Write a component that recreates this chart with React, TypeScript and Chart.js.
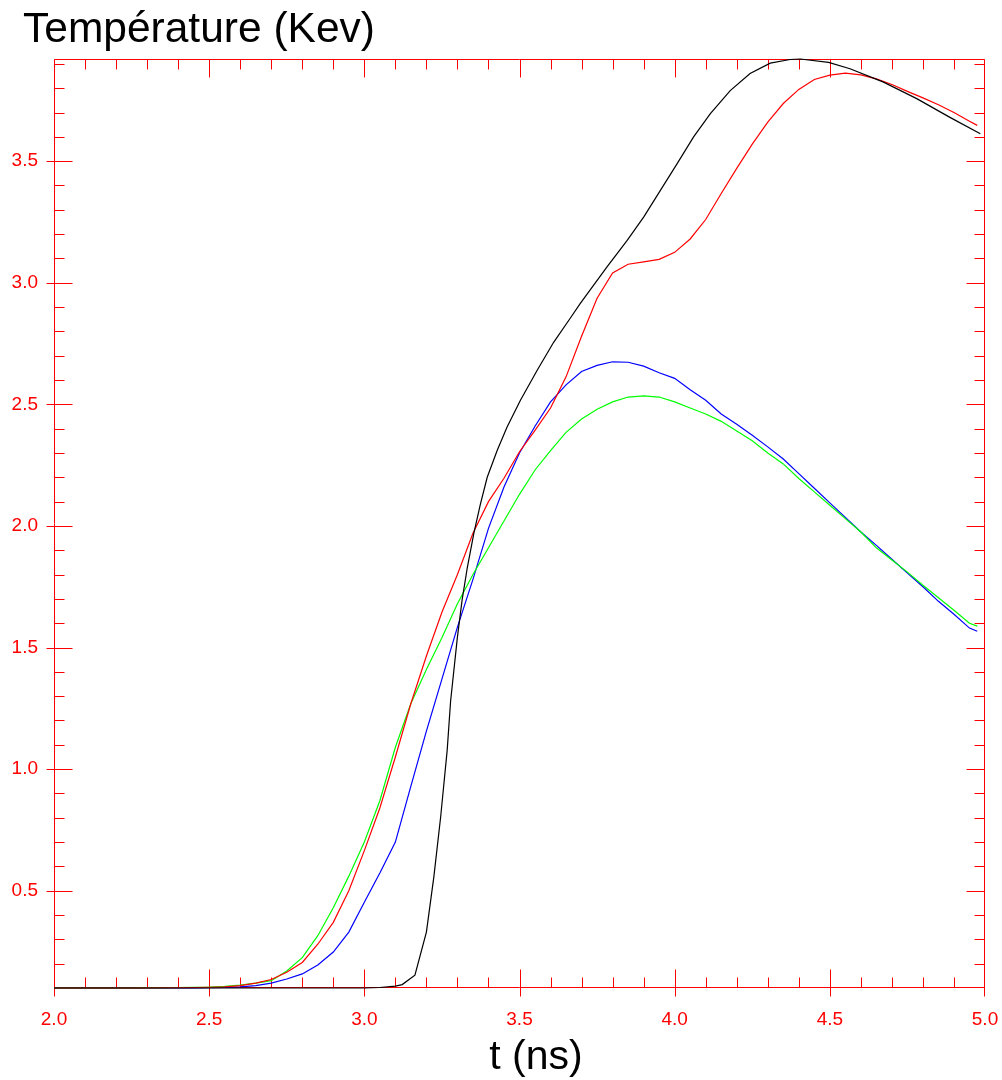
import React, { useEffect, useRef } from 'react';
import { Chart, registerables } from 'chart.js';

Chart.register(...registerables);

const CHART_TITLE = 'Température (Kev)';
const X_TITLE = 't (ns)';

const X_MIN = 2.0;
const X_MAX = 5.0;
const Y_MIN = 0.1;
const Y_MAX = 3.92;
const X_TICKS = [2.0, 2.5, 3.0, 3.5, 4.0, 4.5, 5.0];
const Y_TICKS = [0.5, 1.0, 1.5, 2.0, 2.5, 3.0, 3.5];

// shared time grid (ns) for red, green and blue curves
const T_GRID = [
  2.0, 2.05, 2.1, 2.15, 2.2, 2.25, 2.3, 2.35, 2.4, 2.45,
  2.5, 2.55, 2.6, 2.65, 2.7, 2.75, 2.8, 2.85, 2.9, 2.95,
  3.0, 3.05, 3.1, 3.15, 3.2, 3.25, 3.3, 3.35, 3.4, 3.45,
  3.5, 3.55, 3.6, 3.65, 3.7, 3.75, 3.8, 3.85, 3.9, 3.95,
  4.0, 4.05, 4.1, 4.15, 4.2, 4.25, 4.3, 4.35, 4.4, 4.45,
  4.5, 4.55, 4.6, 4.65, 4.7, 4.75, 4.8, 4.85, 4.9, 4.95, 4.975,
];

const RED_VALUES = [
  0.100, 0.100, 0.100, 0.100, 0.100, 0.100, 0.100, 0.101, 0.101, 0.102,
  0.103, 0.105, 0.110, 0.120, 0.135, 0.165, 0.205, 0.280, 0.370, 0.500,
  0.665, 0.840, 1.050, 1.270, 1.465, 1.645, 1.800, 1.970, 2.100, 2.196,
  2.305, 2.393, 2.485, 2.613, 2.780, 2.936, 3.040, 3.076, 3.086, 3.096,
  3.125, 3.180, 3.260, 3.367, 3.470, 3.570, 3.660, 3.737, 3.795, 3.836,
  3.854, 3.862, 3.855, 3.838, 3.815, 3.787, 3.760, 3.732, 3.700, 3.664, 3.647,
];

const GREEN_VALUES = [
  0.100, 0.100, 0.100, 0.100, 0.100, 0.100, 0.101, 0.101, 0.102, 0.103,
  0.104, 0.107, 0.112, 0.120, 0.130, 0.170, 0.225, 0.315, 0.430, 0.560,
  0.700, 0.870, 1.090, 1.270, 1.410, 1.540, 1.680, 1.800, 1.910, 2.020,
  2.130, 2.230, 2.310, 2.385, 2.440, 2.480, 2.510, 2.530, 2.535, 2.530,
  2.510, 2.485, 2.460, 2.430, 2.390, 2.350, 2.300, 2.255, 2.195, 2.140,
  2.085, 2.030, 1.975, 1.910, 1.860, 1.810, 1.756, 1.705, 1.653, 1.600, 1.588,
];

const BLUE_VALUES = [
  0.100, 0.100, 0.100, 0.100, 0.100, 0.100, 0.100, 0.100, 0.100, 0.100,
  0.101, 0.102, 0.105, 0.110, 0.120, 0.137, 0.158, 0.195, 0.248, 0.330,
  0.453, 0.573, 0.700, 0.930, 1.156, 1.370, 1.584, 1.780, 1.990, 2.160,
  2.300, 2.410, 2.510, 2.580, 2.635, 2.660, 2.675, 2.673, 2.657, 2.630,
  2.607, 2.560, 2.517, 2.460, 2.418, 2.373, 2.325, 2.275, 2.215, 2.155,
  2.095, 2.035, 1.975, 1.920, 1.863, 1.806, 1.750, 1.690, 1.637, 1.580, 1.567,
];

// black curve has its own (finer) time sampling
const BLACK_T = [
  2.0, 2.5, 3.0, 3.05, 3.10, 3.122, 3.163, 3.20, 3.224, 3.246,
  3.267, 3.278, 3.30, 3.315, 3.332, 3.353, 3.374, 3.396, 3.428, 3.46,
  3.503, 3.557, 3.61, 3.664, 3.696, 3.782, 3.847, 3.90, 3.954, 4.008,
  4.061, 4.115, 4.179, 4.243, 4.308, 4.372, 4.405, 4.496, 4.565, 4.673,
  4.78, 4.887, 4.985,
];
const BLACK_VALUES = [
  0.100, 0.100, 0.100, 0.102, 0.108, 0.114, 0.153, 0.330, 0.557, 0.804,
  1.078, 1.280, 1.544, 1.695, 1.830, 1.970, 2.090, 2.200, 2.310, 2.407,
  2.517, 2.640, 2.755, 2.855, 2.915, 3.065, 3.174, 3.270, 3.380, 3.490,
  3.600, 3.695, 3.790, 3.860, 3.903, 3.918, 3.920, 3.906, 3.880, 3.825,
  3.757, 3.680, 3.613,
];

const AXIS_COLOR = '#ff0000';
const FONT_FAMILY = '"Liberation Sans", Arial, sans-serif';

const pairs = (xs: number[], ys: number[]) => xs.map((x, i) => ({ x, y: ys[i] }));

const frameTicks = {
  id: 'frameTicks',
  beforeDatasetsDraw(chart: any) {
    const { ctx, chartArea: a, scales } = chart;
    const xs = scales.x;
    const ys = scales.y;
    const L = Math.round(a.left) + 0.5;
    const R = Math.round(a.right) - 0.5;
    const T = Math.round(a.top) + 0.5;
    const B = Math.round(a.bottom) - 0.5;
    ctx.save();
    ctx.strokeStyle = AXIS_COLOR;
    ctx.lineWidth = 1;
    ctx.beginPath();
    ctx.rect(L, T, R - L, B - T);
    for (let i = 0; i <= 30; i++) {
      const v = X_MIN + i * 0.1;
      let px = Math.round(xs.getPixelForValue(v)) + 0.5;
      px = Math.min(Math.max(px, L), R);
      const major = i % 5 === 0;
      const len = major ? 18 : 10;
      ctx.moveTo(px, B + (major ? 9 : 0));
      ctx.lineTo(px, B - len);
      ctx.moveTo(px, T);
      ctx.lineTo(px, T + len);
    }
    for (let i = 1; i <= 39; i++) {
      const v = i / 10;
      let py = Math.round(ys.getPixelForValue(v)) + 0.5;
      py = Math.min(Math.max(py, T), B);
      const major = i % 5 === 0;
      const len = major ? 18 : 10;
      ctx.moveTo(L - (major ? 8 : 0), py);
      ctx.lineTo(L + len, py);
      ctx.moveTo(R, py);
      ctx.lineTo(R - len, py);
    }
    ctx.stroke();
    ctx.restore();
  },
  afterDraw(chart: any) {
    const { ctx } = chart;
    ctx.save();
    ctx.fillStyle = '#000000';
    ctx.textBaseline = 'alphabetic';
    ctx.font = `42.5px ${FONT_FAMILY}`;
    ctx.textAlign = 'left';
    ctx.fillText(CHART_TITLE, 23, 42);
    ctx.font = `41px ${FONT_FAMILY}`;
    ctx.textAlign = 'center';
    ctx.fillText(X_TITLE, 536, 1069);
    ctx.restore();
  },
};

export default function App() {
  const ref = useRef<HTMLCanvasElement | null>(null);
  useEffect(() => {
    if (!ref.current) return;
    const chart = new Chart(ref.current, {
      type: 'line',
      data: {
        datasets: [
          { label: 'black', data: pairs(BLACK_T, BLACK_VALUES), borderColor: '#000000' },
          { label: 'red', data: pairs(T_GRID, RED_VALUES), borderColor: '#ff0000' },
          { label: 'green', data: pairs(T_GRID, GREEN_VALUES), borderColor: '#00ff00' },
          { label: 'blue', data: pairs(T_GRID, BLUE_VALUES), borderColor: '#0000ff' },
        ].map((d) => ({ ...d, borderWidth: 1.2, pointRadius: 0, tension: 0, fill: false, clip: 4 })),
      },
      options: {
        animation: false,
        responsive: false,
        devicePixelRatio: 1,
        layout: { padding: { left: 0, right: 0, top: 59, bottom: 0 } },
        plugins: {
          legend: { display: false },
          tooltip: { enabled: false },
          title: { display: false },
        },
        scales: {
          x: {
            type: 'linear',
            min: X_MIN,
            max: X_MAX,
            afterBuildTicks: (s: any) => { s.ticks = X_TICKS.map((value) => ({ value })); },
            afterFit: (s: any) => { s.height = 92; s.paddingRight = 17; },
            grid: { display: false, drawTicks: false },
            border: { display: false },
            ticks: {
              color: AXIS_COLOR,
              font: { family: FONT_FAMILY, size: 19 },
              padding: 20,
              maxRotation: 0,
              autoSkip: false,
              callback: (v: any) => Number(v).toFixed(1),
            },
          },
          y: {
            type: 'linear',
            min: Y_MIN,
            max: Y_MAX,
            afterBuildTicks: (s: any) => { s.ticks = Y_TICKS.map((value) => ({ value })); },
            afterFit: (s: any) => { s.width = 54; },
            grid: { display: false, drawTicks: false },
            border: { display: false },
            ticks: {
              color: AXIS_COLOR,
              font: { family: FONT_FAMILY, size: 19 },
              padding: 16,
              autoSkip: false,
              callback: (v: any) => Number(v).toFixed(1),
            },
          },
        },
      },
      plugins: [frameTicks],
    } as any);
    return () => chart.destroy();
  }, []);
  return (
    <div style={{ position: 'absolute', left: 0, top: 0, width: 1002, height: 1080, background: '#ffffff' }}>
      <canvas ref={ref} width={1002} height={1080} />
    </div>
  );
}
